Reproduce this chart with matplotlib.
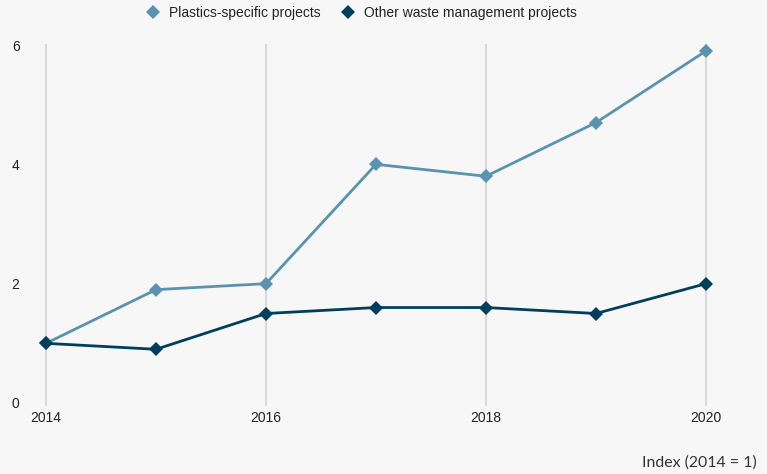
import matplotlib
matplotlib.use("Agg")
import matplotlib.pyplot as plt
from matplotlib.lines import Line2D

years = [2014, 2015, 2016, 2017, 2018, 2019, 2020]
plastics = [1.0, 1.9, 2.0, 4.0, 3.8, 4.7, 5.9]
other_waste = [1.0, 0.9, 1.5, 1.6, 1.6, 1.5, 2.0]
series_labels = ["Plastics-specific projects", "Other waste management projects"]
x_ticks = [2014, 2016, 2018, 2020]
y_ticks = [0, 2, 4, 6]
unit_note = "Index (2014 = 1)"

light_blue = "#5a93b1"
dark_blue = "#003f5c"
bg = "#f7f7f7"
grid_col = "#d9d9d9"
tick_font = ["Liberation Sans Narrow", "Liberation Sans", "DejaVu Sans"]

W, H = 767, 474
fig = plt.figure(figsize=(W / 100, H / 100), dpi=100, facecolor=bg)
ax = fig.add_axes([46 / W, (H - 403) / H, (706 - 46) / W, (403 - 45) / H], facecolor=bg)

ax.set_xlim(2014, 2020)
ax.set_ylim(0, 6)

for x in x_ticks:
    ax.axvline(x, ymin=-0.006, ymax=1.0, color=grid_col, lw=1.5, zorder=1, clip_on=False)

ax.plot(years, plastics, color=light_blue, lw=2.0, marker="D", markersize=7.4,
        markeredgewidth=0, zorder=3, clip_on=False)
ax.plot(years, other_waste, color=dark_blue, lw=2.0, marker="D", markersize=7.4,
        markeredgewidth=0, zorder=4, clip_on=False)

for s in ax.spines.values():
    s.set_visible(False)

ax.set_xticks(x_ticks)
ax.set_xticklabels([str(v) for v in x_ticks], fontfamily=tick_font, fontsize=10, color="#222222")
ax.set_yticks(y_ticks)
ax.set_yticklabels([str(v) for v in y_ticks], fontfamily=tick_font, fontsize=10, color="#222222")
ax.tick_params(axis="x", length=0, pad=6)
ax.tick_params(axis="y", length=0, pad=19)

handles = [
    Line2D([], [], linestyle="none", marker="D", markersize=7.0, markeredgewidth=0, color=light_blue),
    Line2D([], [], linestyle="none", marker="D", markersize=7.0, markeredgewidth=0, color=dark_blue),
]
leg = fig.legend(handles, series_labels, loc="center left", bbox_to_anchor=(132 / W, 1 - 13 / H),
                 ncol=2, frameon=False, handlelength=1.2, handletextpad=0.55, columnspacing=1.4,
                 prop={"family": tick_font, "size": 10})
for t in leg.get_texts():
    t.set_color("#222222")

fig.text(757 / W, 1 - 463 / H, unit_note, ha="right", va="center",
         fontfamily=["Lato", "DejaVu Sans"], fontsize=11.4, color="#333333")

fig.savefig("out.png", dpi=100, facecolor=bg)
